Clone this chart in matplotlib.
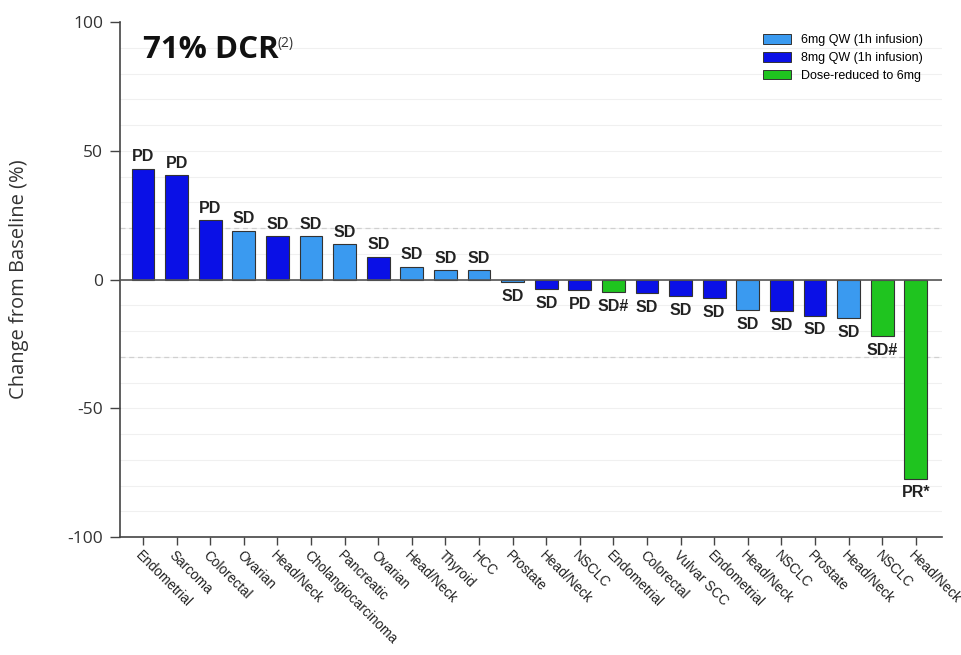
import matplotlib
matplotlib.use("Agg")
import matplotlib.pyplot as plt
import matplotlib.transforms as mtransforms
from matplotlib.patches import Patch

categories = ["Endometrial", "Sarcoma", "Colorectal", "Ovarian", "Head/Neck",
              "Cholangiocarcinoma", "Pancreatic", "Ovarian", "Head/Neck", "Thyroid",
              "HCC", "Prostate", "Head/Neck", "NSCLC", "Endometrial", "Colorectal",
              "Vulvar SCC", "Endometrial", "Head/Neck", "NSCLC", "Prostate",
              "Head/Neck", "NSCLC", "Head/Neck"]
values = [43.1, 40.4, 23.0, 19.0, 16.8, 16.8, 13.8, 8.9, 5.0, 3.7, 3.5, -1.0,
          -3.7, -4.0, -4.7, -5.3, -6.6, -7.2, -12.0, -12.3, -14.0, -14.9, -21.9, -77.3]
groups = ["8mg", "8mg", "8mg", "6mg", "8mg", "6mg", "6mg", "8mg", "6mg", "6mg",
          "6mg", "6mg", "8mg", "8mg", "red", "8mg", "8mg", "8mg", "6mg", "8mg",
          "8mg", "6mg", "red", "red"]
responses = ["PD", "PD", "PD", "SD", "SD", "SD", "SD", "SD", "SD", "SD", "SD", "SD",
             "SD", "PD", "SD#", "SD", "SD", "SD", "SD", "SD", "SD", "SD", "SD#", "PR*"]
legend_labels = {"6mg": "6mg QW (1h infusion)", "8mg": "8mg QW (1h infusion)",
                 "red": "Dose-reduced to 6mg"}
colors = {"6mg": "#3a9af0", "8mg": "#0a10e6", "red": "#1fc41f"}
yticks = [100, 50, 0, -50, -100]

fig = plt.figure(figsize=(9.62, 6.55), dpi=100)
ax = fig.add_axes([120 / 962, 1 - 537 / 655, 822 / 962, 515 / 655])

x = list(range(len(values)))
ax.bar(x, values, width=0.68, color=[colors[g] for g in groups],
       edgecolor="#333333", linewidth=0.8, zorder=3)

# faint grid
for v in range(-90, 100, 10):
    ax.axhline(v, color="#f0f0f0", lw=0.8, zorder=0)
ax.axhline(20, color="#d0d0d0", lw=0.9, ls=(0, (4, 3)), zorder=1)
ax.axhline(-30, color="#d0d0d0", lw=0.9, ls=(0, (4, 3)), zorder=1)
ax.axhline(0, color="#555555", lw=1.2, zorder=4)

fs_lab = 11.5
for xi, v, r in zip(x, values, responses):
    if v >= 0:
        ax.annotate(r, (xi, v), xytext=(0, 3), textcoords="offset points",
                    ha="center", va="bottom", fontsize=fs_lab, fontweight="bold",
                    family="Liberation Sans", color="#222222", zorder=5)
    else:
        ax.annotate(r, (xi, v), xytext=(0, -5), textcoords="offset points",
                    ha="center", va="top", fontsize=fs_lab, fontweight="bold",
                    family="Liberation Sans", color="#222222", zorder=5)

ax.set_xlim(-0.685, 23.78)
ax.set_ylim(-100, 100)
ax.set_yticks(yticks)
ax.set_yticklabels([str(t) for t in yticks], fontsize=12.5, family="Open Sans",
                   color="#333333")
ax.set_xticks(x)
ax.set_xticklabels(categories, rotation=-45, ha="left", va="top",
                   rotation_mode="anchor", fontsize=9.8, family="Liberation Sans",
                   color="#222222")
offset = mtransforms.ScaledTranslation(-12 / 100, -2 / 100, fig.dpi_scale_trans)
for lbl in ax.get_xticklabels():
    lbl.set_transform(lbl.get_transform() + offset)

ax.tick_params(axis="y", direction="out", length=7, width=1, color="#444444", pad=5)
ax.tick_params(axis="x", direction="out", length=6, width=1, color="#444444", pad=2)
for s in ["top", "right"]:
    ax.spines[s].set_visible(False)
for s in ["left", "bottom"]:
    ax.spines[s].set_color("#444444")
    ax.spines[s].set_linewidth(1.2)

ax.set_ylabel("Change from Baseline (%)", fontsize=14.5, family="Open Sans",
              color="#333333", labelpad=28)

fig.text(143 / 962, 1 - 50 / 655, "71% DCR", fontsize=22.5, fontweight="bold",
         family="Open Sans", color="#111111", va="center", ha="left")
fig.text(278 / 962, 1 - 44 / 655, "(2)", fontsize=10, family="Open Sans",
         color="#333333", va="center", ha="left")

handles = [Patch(facecolor=colors[k], edgecolor="#333333", linewidth=0.7,
                 label=legend_labels[k]) for k in ["6mg", "8mg", "red"]]
fig.legend(handles=handles, loc="upper left",
           bbox_to_anchor=(757 / 962, 1 - 28 / 655), frameon=False,
           prop={"family": "Liberation Sans", "size": 9},
           handlelength=2.2, handleheight=0.8, labelspacing=0.45,
           borderpad=0, handletextpad=0.8)

fig.savefig("out.png", dpi=100)
